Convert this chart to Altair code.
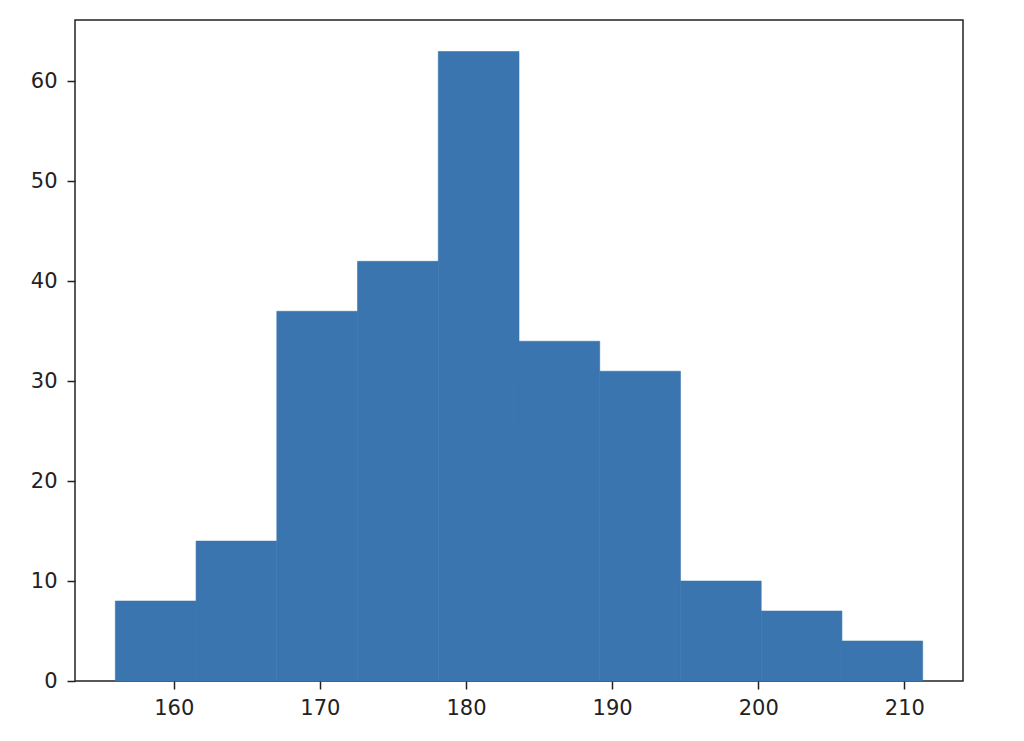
import altair as alt
import pandas as pd

bin_start = [156.0, 161.525, 167.05, 172.575, 178.1, 183.625, 189.15, 194.675, 200.2, 205.725]
bin_end = [161.525, 167.05, 172.575, 178.1, 183.625, 189.15, 194.675, 200.2, 205.725, 211.25]
counts = [8, 14, 37, 42, 63, 34, 31, 10, 7, 4]

x_ticks = [160, 170, 180, 190, 200, 210]
y_ticks = [0, 10, 20, 30, 40, 50, 60]

df = pd.DataFrame({"start": bin_start, "end": bin_end, "count": counts})

chart = alt.Chart(df).mark_rect(color="#3a75af", stroke="#3a75af", strokeWidth=0.6).encode(
    x=alt.X("start:Q",
            scale=alt.Scale(domain=[153.24, 214.01], nice=False, zero=False),
            axis=alt.Axis(values=x_ticks, title=None, grid=False, domain=False,
                          ticks=True, tickSize=8, tickWidth=1.5, tickColor="#222222",
                          labelPadding=8, labelFontSize=21, labelFont="DejaVu Sans",
                          labelColor="#222222", labelFlush=False)),
    x2="end:Q",
    y=alt.Y("count:Q",
            scale=alt.Scale(domain=[0, 66.15], nice=False),
            axis=alt.Axis(values=y_ticks, title=None, grid=False, domain=False,
                          ticks=True, tickSize=8, tickWidth=1.5, tickColor="#222222",
                          labelPadding=10, labelFontSize=21, labelFont="DejaVu Sans",
                          labelColor="#222222", labelFlush=False)),
    y2=alt.datum(0),
).properties(
    width=888, height=661,
    autosize=alt.AutoSizeParams(type="none"),
    padding={"left": 67, "top": 12, "right": 45, "bottom": 52},
).configure_view(
    stroke="#222222", strokeWidth=1.5
)

chart.save("out.html", embed_options={"renderer": "svg", "actions": False})
